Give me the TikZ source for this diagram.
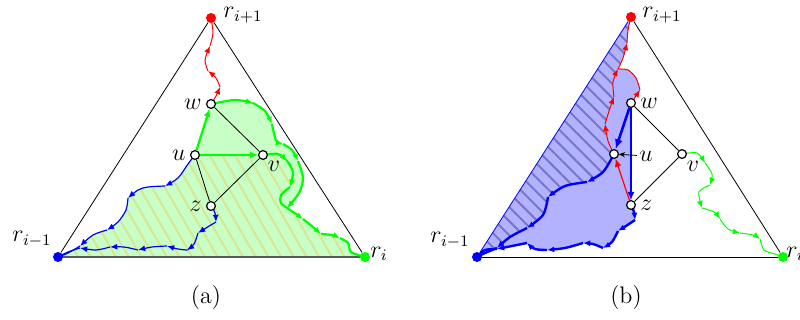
\documentclass[tikz,border=0pt]{standalone}
\usetikzlibrary{arrows.meta,patterns.meta,backgrounds}
\definecolor{hatchA}{RGB}{216,230,145}
\definecolor{hatchB}{RGB}{118,118,200}
\begin{document}
\begin{tikzpicture}[
  x=0.5pt,
  y=-0.5pt,
  font=\large,
  vtx/.style={circle, draw, fill=white, line width=0.6pt, inner sep=0pt, minimum size=4.4pt},
  root/.style={circle, fill=#1, inner sep=0pt, minimum size=5pt},
  tip/.style={-{Latex[length=4pt,width=3.4pt]}},
  hd/.style={-{Latex[length=3.6pt,width=3pt]}}
]
\useasboundingbox (0,0) rectangle (800,320);

% ---------------- (a) ----------------
\node[root=red]   (rt) at (211,18)  {};
\node[root=blue]  (rl) at (58,257)  {};
\node[root=green] (rr) at (365,257) {};
\node[vtx] (w) at (211,104) {};
\node[vtx] (u) at (195,155) {};
\node[vtx] (v) at (263,155) {};
\node[vtx] (z) at (211,206) {};
\coordinate (j) at (287,208);

\node[inner sep=0pt] (lrt) at (243,15)  {$r_{i+1}$};
\node[inner sep=0pt] (lrl) at (32,239)  {$r_{i-1}$};
\node[inner sep=0pt] (lrr) at (379,254) {$r_i$};
\node[anchor=east, inner sep=2pt] (lw) at (w.west) {$w$};
\node[anchor=east, inner sep=2pt] (lu) at (u.west) {$u$};
\node[inner sep=0pt] (lv) at (274,166) {$v$};
\node[anchor=east, inner sep=2pt] (lz) at (z.west) {$z$};
\node (capa) at (206,298) {(a)};

\begin{scope}[on background layer]
\fill[green!22] (u.center) -- (w.center)
  -- plot[smooth] coordinates {(w.center) (235,100) (253,103) (265,111) (272,124) (276,140) (283,144) (292,150) (298,161) (303,178) (299,193) (j)}
  -- plot[smooth] coordinates {(j) (296,214) (303,219) (313,227) (321,234) (332,235) (340,238) (348,243) (351,252) (rr.center)}
  -- (rl.center)
  -- plot[smooth] coordinates {(rl.center) (68,253) (80,246) (93,235) (107,230) (118,222) (126,210) (128,198) (138,190) (148,187) (165,186) (178,178) (188,164) (u.center)}
  -- cycle;
\fill[pattern={Lines[angle=-60,distance=5.5pt,line width=1pt]}, pattern color=hatchA] (u.center) -- (v.center)
  -- plot[smooth] coordinates {(v.center) (278,154) (287,161) (293,172) (290,187) (281,195) (281,203) (j)}
  -- plot[smooth] coordinates {(j) (296,214) (303,219) (313,227) (321,234) (332,235) (340,238) (348,243) (351,252) (rr.center)}
  -- (rl.center)
  -- plot[smooth] coordinates {(rl.center) (68,253) (80,246) (93,235) (107,230) (118,222) (126,210) (128,198) (138,190) (148,187) (165,186) (178,178) (188,164) (u.center)}
  -- cycle;
\draw[black!65, line width=0.8pt] (rl.center) -- (rr.center);

% red path w to r_{i+1}
\draw[red, line width=0.5pt, hd] plot[smooth] coordinates {(w.center) (216,96) (220,87)};
\draw[red, line width=0.5pt, hd] plot[smooth] coordinates {(220,87) (216,78) (208,71)};
\draw[red, line width=0.5pt, hd] plot[smooth] coordinates {(208,71) (205,60) (210,46)};
\draw[red, line width=0.5pt] plot[smooth] coordinates {(210,46) (213,33) (rt.center)};

% green path w to r_i
\draw[green, line width=1.1pt, hd] plot[smooth] coordinates {(w.center) (235,100) (253,103)};
\draw[green, line width=1.1pt, hd] plot[smooth] coordinates {(253,103) (265,111) (272,124)};
\draw[green, line width=1.1pt, hd] plot[smooth] coordinates {(272,124) (276,140) (283,144)};
\draw[green, line width=1.1pt, hd] plot[smooth] coordinates {(283,144) (292,150) (298,161)};
\draw[green, line width=1.1pt, hd] plot[smooth] coordinates {(298,161) (303,178) (299,193) (j)};
\draw[green, line width=1.1pt, hd] plot[smooth] coordinates {(j) (296,214) (303,219)};
\draw[green, line width=1.1pt, hd] plot[smooth] coordinates {(303,219) (313,227) (321,234)};
\draw[green, line width=1.1pt, hd] plot[smooth] coordinates {(321,234) (332,235) (340,238)};
\draw[green, line width=1.1pt] plot[smooth] coordinates {(340,238) (348,243) (351,252) (rr.center)};

% green path v to the join
\draw[green, line width=1.1pt, hd] plot[smooth] coordinates {(v.center) (278,154) (287,161)};
\draw[green, line width=1.1pt, hd] plot[smooth] coordinates {(287,161) (293,172) (290,187)};
\draw[green, line width=1.1pt] plot[smooth] coordinates {(290,187) (281,195) (281,203) (j)};

% blue path u to r_{i-1}
\draw[blue, line width=0.6pt, hd] plot[smooth] coordinates {(u.center) (188,164) (178,178) (165,186)};
\draw[blue, line width=0.6pt, hd] plot[smooth] coordinates {(165,186) (148,187) (138,190) (128,198)};
\draw[blue, line width=0.6pt, hd] plot[smooth] coordinates {(128,198) (126,210) (118,222) (107,230)};
\draw[blue, line width=0.6pt, hd] plot[smooth] coordinates {(107,230) (93,235) (80,246)};
\draw[blue, line width=0.6pt] plot[smooth] coordinates {(80,246) (68,253) (rl.center)};

% blue path z to r_{i-1}
\draw[blue, line width=0.6pt, hd] plot[smooth] coordinates {(z.center) (215,213) (216,222)};
\draw[blue, line width=0.6pt, hd] plot[smooth] coordinates {(216,222) (206,228) (198,233)};
\draw[blue, line width=0.6pt, hd] plot[smooth] coordinates {(198,233) (194,244) (187,250)};
\draw[blue, line width=0.6pt, hd] plot[smooth] coordinates {(187,250) (178,249) (167,246)};
\draw[blue, line width=0.6pt, hd] plot[smooth] coordinates {(167,246) (152,247) (138,250)};
\draw[blue, line width=0.6pt, hd] plot[smooth] coordinates {(138,250) (124,247) (110,247)};
\draw[blue, line width=0.6pt, hd] plot[smooth] coordinates {(110,247) (96,250) (80,248)};
\draw[blue, line width=0.6pt] plot[smooth] coordinates {(80,248) (68,252) (rl.center)};
\end{scope}

\draw (rt) -- (rl);
\draw (rt) -- (rr);
\draw[green, line width=1.1pt, tip] (u) -- (w);
\draw[green, line width=1.1pt, tip] (u) -- (v);
\draw (w) -- (v);
\draw (u) -- (z);
\draw (v) -- (z);

% ---------------- (b) ----------------
\node[root=red]   (brt) at (631,17)  {};
\node[root=blue]  (brl) at (477,257) {};
\node[root=green] (brr) at (783,257) {};
\node[vtx] (bw) at (631,103) {};
\node[vtx] (bu) at (614,154) {};
\node[vtx] (bv) at (682,154) {};
\node[vtx] (bz) at (631,205) {};
\coordinate (m) at (618,69);

\node[inner sep=0pt] (blrt) at (662,15)  {$r_{i+1}$};
\node[inner sep=0pt] (blrl) at (450,240) {$r_{i-1}$};
\node[inner sep=0pt, anchor=west] (blrr) at (786,254) {$r_i$};
\node[anchor=west, inner sep=2pt] (blw) at (bw.east) {$w$};
\node[inner sep=1pt] (blu) at (646,156) {$u$};
\node[inner sep=0pt] (blv) at (693,166) {$v$};
\node[anchor=west, inner sep=2pt] (blz) at (bz.east) {$z$};
\node (capb) at (626,298) {(b)};

\begin{scope}[on background layer]
\fill[blue!30] (brt.center) -- (brl.center)
  -- plot[smooth] coordinates {(brl.center) (485,250) (497,249) (512,246) (527,243) (535,249) (547,250) (565,248) (583,243) (593,244) (603,248) (612,242) (618,231) (626,226) (635,220) (634,212) (bz.center)}
  -- (bw.center)
  -- plot[smooth] coordinates {(bw.center) (636,96) (640,90) (636,78) (628,70) (m)}
  -- plot[smooth] coordinates {(m) (623,58) (627,43) (628,30) (brt.center)}
  -- cycle;
\fill[pattern={Lines[angle=-45,distance=5pt,line width=1pt]}, pattern color=hatchB] (brt.center) -- (brl.center)
  -- plot[smooth] coordinates {(brl.center) (485,253) (497,248) (510,237) (527,228) (543,215) (548,197) (565,186) (587,182) (603,172) (bu.center)}
  -- plot[smooth] coordinates {(bu.center) (608,141) (605,124) (610,108) (614,97) (613,82) (m) (623,58) (627,43) (628,30) (brt.center)}
  -- cycle;

% red paths to r_{i+1}
\draw[red, line width=0.5pt, hd] plot[smooth] coordinates {(bu.center) (608,141) (605,124)};
\draw[red, line width=0.5pt, hd] plot[smooth] coordinates {(605,124) (610,108) (614,97)};
\draw[red, line width=0.5pt, hd] plot[smooth] coordinates {(614,97) (613,82) (m)};
\draw[red, line width=0.5pt, hd] plot[smooth] coordinates {(m) (623,58) (627,43)};
\draw[red, line width=0.5pt] plot[smooth] coordinates {(627,43) (628,30) (brt.center)};
\draw[red, line width=0.5pt, hd] plot[smooth] coordinates {(bw.center) (636,96) (640,90)};
\draw[red, line width=0.5pt] plot[smooth] coordinates {(640,90) (636,78) (628,70) (m)};

% blue path u to r_{i-1}
\draw[blue, line width=1.2pt, hd] plot[smooth] coordinates {(bu.center) (603,172) (587,182)};
\draw[blue, line width=1.2pt, hd] plot[smooth] coordinates {(587,182) (565,186) (548,197)};
\draw[blue, line width=1.2pt, hd] plot[smooth] coordinates {(548,197) (543,215) (527,228)};
\draw[blue, line width=1.2pt, hd] plot[smooth] coordinates {(527,228) (510,237) (497,248)};
\draw[blue, line width=1.2pt] plot[smooth] coordinates {(497,248) (485,253) (brl.center)};

% blue path z to r_{i-1}
\draw[blue, line width=1.2pt, hd] plot[smooth] coordinates {(bz.center) (634,212) (635,220)};
\draw[blue, line width=1.2pt, hd] plot[smooth] coordinates {(635,220) (626,226) (618,231)};
\draw[blue, line width=1.2pt, hd] plot[smooth] coordinates {(618,231) (612,242) (603,248)};
\draw[blue, line width=1.2pt, hd] plot[smooth] coordinates {(603,248) (593,244) (583,243)};
\draw[blue, line width=1.2pt, hd] plot[smooth] coordinates {(583,243) (565,248) (547,250)};
\draw[blue, line width=1.2pt, hd] plot[smooth] coordinates {(547,250) (535,249) (527,243)};
\draw[blue, line width=1.2pt, hd] plot[smooth] coordinates {(527,243) (512,246) (497,249)};
\draw[blue, line width=1.2pt] plot[smooth] coordinates {(497,249) (485,250) (brl.center)};

% green path v to r_i
\draw[green, line width=0.5pt, hd] plot[smooth] coordinates {(bv.center) (697,153) (705,163)};
\draw[green, line width=0.5pt, hd] plot[smooth] coordinates {(705,163) (712,174) (710,185)};
\draw[green, line width=0.5pt, hd] plot[smooth] coordinates {(710,185) (699,192) (702,208)};
\draw[green, line width=0.5pt, hd] plot[smooth] coordinates {(702,208) (714,212) (720,219)};
\draw[green, line width=0.5pt, hd] plot[smooth] coordinates {(720,219) (728,229) (740,233)};
\draw[green, line width=0.5pt, hd] plot[smooth] coordinates {(740,233) (753,235) (760,239)};
\draw[green, line width=0.5pt] plot[smooth] coordinates {(760,239) (764,250) (775,254) (brr.center)};
\end{scope}

\draw[blue] (brt) -- (brl);
\draw (brt) -- (brr);
\draw (brl) -- (brr);
\draw[blue, line width=1.3pt, -{Latex[length=5pt,width=4pt]}] (bw) -- (bu);
\draw[blue, line width=0.6pt, tip] (bw) -- (bz);
\draw[red, line width=0.6pt, tip] (bz) -- (bu);
\draw (bw) -- (bv);
\draw (bv) -- (bz);
\draw[-{Stealth[length=3pt,width=2.6pt]}] (blu) -- (bu);
\end{tikzpicture}
\end{document}
